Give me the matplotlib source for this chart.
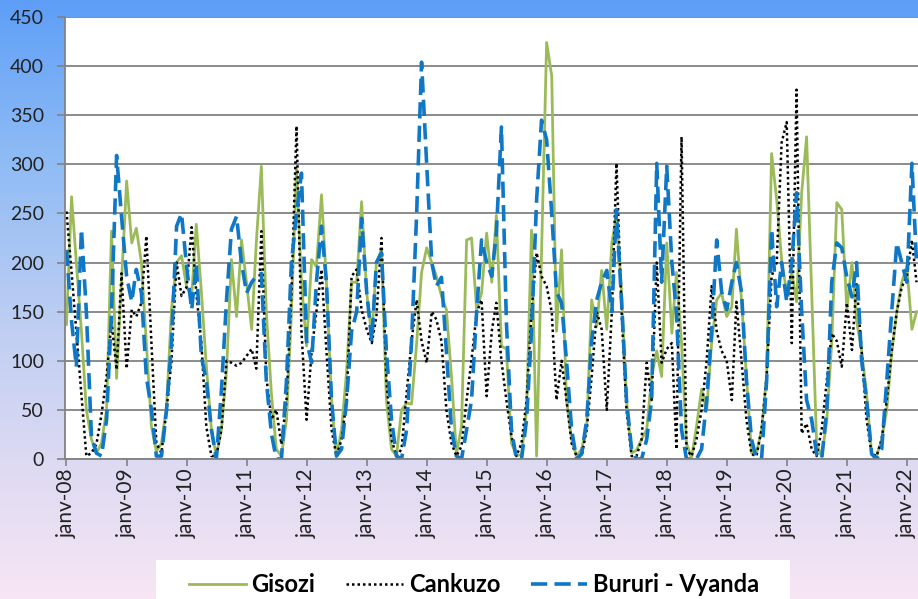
import numpy as np
import pandas as pd
import matplotlib
matplotlib.use('Agg')
import matplotlib.pyplot as plt
from matplotlib.patches import Rectangle

plt.rcParams['font.family'] = ['Lato', 'DejaVu Sans']

# monthly rainfall (mm), jan 2008 -> mar 2022
months = pd.date_range('2008-01-01', periods=171, freq='MS')

gisozi = [
    137, 267, 200, 130, 50, 20, 6, 16, 50, 232, 82, 180,      # 2008
    283, 220, 235, 200, 118, 33, 8, 16, 54, 152, 200, 207,    # 2009
    175, 166, 239, 170, 95, 30, 3, 30, 90, 203, 145, 223,     # 2010
    179, 132, 220, 298, 150, 67, 10, 3, 40, 150, 295, 180,    # 2011
    115, 203, 196, 269, 180, 60, 3, 30, 90, 180, 180, 262,    # 2012
    169, 125, 200, 213, 60, 10, 3, 50, 57, 56, 118, 190,      # 2013
    215, 200, 186, 166, 152, 84, 5, 33, 223, 225, 152, 169,   # 2014
    230, 180, 248, 115, 112, 16, 4, 4, 50, 233, 3, 212,       # 2015
    424, 390, 130, 213, 60, 20, 3, 10, 33, 162, 135, 192,     # 2016
    132, 220, 248, 170, 60, 6, 9, 20, 30, 84, 110, 84,        # 2017
    220, 128, 190, 118, 16, 1, 33, 71, 50, 118, 162, 169,     # 2018
    145, 155, 234, 162, 84, 6, 6, 30, 84, 311, 264, 203,      # 2019
    169, 190, 160, 271, 328, 170, 16, 2, 40, 118, 261, 254,   # 2020
    152, 200, 141, 110, 67, 5, 3, 20, 50, 108, 150, 180,      # 2021
    196, 132, 150,                                            # 2022
]

cankuzo = [
    252, 190, 130, 67, 3, 6, 15, 45, 84, 140, 91, 189,
    92, 152, 145, 159, 227, 118, 16, 6, 50, 100, 200, 166,
    175, 236, 169, 118, 33, 3, 3, 30, 100, 98, 95, 98,
    105, 112, 92, 232, 84, 40, 50, 15, 60, 169, 339, 130,
    40, 110, 150, 193, 110, 30, 3, 20, 60, 186, 193, 152,
    132, 118, 145, 225, 80, 20, 3, 10, 67, 120, 162, 120,
    98, 150, 142, 120, 50, 16, 3, 13, 60, 101, 149, 162,
    64, 130, 159, 100, 60, 23, 3, 16, 60, 150, 210, 186,
    176, 150, 60, 100, 60, 16, 3, 3, 30, 84, 150, 132,
    50, 150, 301, 150, 50, 3, 3, 20, 98, 60, 200, 98,
    112, 118, 10, 328, 10, 3, 20, 50, 100, 176, 130, 110,
    100, 60, 160, 100, 40, 5, 3, 30, 84, 186, 200, 322,
    343, 118, 376, 26, 36, 10, 3, 30, 80, 128, 120, 94,
    159, 111, 179, 110, 40, 5, 3, 20, 60, 110, 150, 175,
    186, 223, 180,
]

bururi = [
    213, 140, 94, 234, 150, 23, 6, 3, 40, 150, 309, 247,
    186, 160, 193, 169, 84, 50, 3, 3, 50, 118, 237, 250,
    196, 152, 199, 104, 80, 30, 0, 70, 162, 234, 247, 200,
    169, 180, 186, 189, 80, 26, 0, 0, 80, 200, 250, 291,
    120, 98, 180, 237, 180, 60, 3, 10, 60, 130, 150, 245,
    170, 120, 200, 210, 110, 40, 3, 0, 30, 120, 250, 404,
    300, 200, 176, 185, 110, 30, 3, 0, 30, 60, 150, 223,
    200, 186, 230, 338, 140, 30, 0, 0, 40, 130, 264, 345,
    325, 250, 170, 159, 100, 30, 0, 5, 40, 120, 162, 180,
    192, 150, 254, 160, 60, 10, 0, 0, 20, 60, 301, 180,
    298, 200, 150, 30, 0, 0, 0, 10, 60, 130, 223, 170,
    152, 180, 200, 170, 80, 20, 0, 0, 80, 234, 155, 200,
    160, 200, 271, 150, 60, 40, 5, 0, 50, 180, 220, 215,
    185, 165, 200, 100, 60, 5, 0, 10, 80, 150, 220, 200,
    180, 301, 200,
]

tick_years = list(range(2008, 2023))
tick_labels = ['janv-08', 'janv-09', 'janv-10', 'janv-11', 'janv-12',
               'janv-13', 'janv-14', 'janv-15', 'janv-16', 'janv-17',
               'janv-18', 'janv-19', 'janv-20', 'janv-21', 'janv-22']

W, H = 918, 599
fig = plt.figure(figsize=(W / 100, H / 100), dpi=100)

# background gradient, blue on top to pale pink at bottom
bg = fig.add_axes([0, 0, 1, 1], zorder=-10)
pos = [0.0, 0.25, 0.55, 0.8, 1.0]
cols = np.array([[0.37, 0.62, 0.97],
                 [0.55, 0.73, 0.96],
                 [0.75, 0.81, 0.95],
                 [0.88, 0.86, 0.95],
                 [0.97, 0.90, 0.96]])
t = np.linspace(0, 1, 300)
grad = np.stack([np.interp(t, pos, cols[:, i]) for i in range(3)], axis=-1)
grad = np.repeat(grad[:, None, :], 2, axis=1)
bg.imshow(grad, aspect='auto', extent=[0, 1, 0, 1])
bg.axis('off')

ax = fig.add_axes([65 / W, 1 - 459 / H, 1 - 65 / W, 442 / H])
ax.set_facecolor('white')

l1, = ax.plot(months, gisozi, color='#9bbb59', lw=2.0)
l2, = ax.plot(months, cankuzo, color='black', lw=1.8, linestyle=(0, (1, 1.2)))
l3, = ax.plot(months, bururi, color='#0f77c6', lw=2.6, linestyle=(0, (4.5, 2)))

ax.set_ylim(0, 450)
ax.set_yticks(range(0, 451, 50))
ax.set_xlim(pd.Timestamp('2007-12-23'), pd.Timestamp('2022-03-10'))
ax.set_xticks([pd.Timestamp(f'{y}-01-01') for y in tick_years])
ax.set_xticklabels(tick_labels, rotation=90)

ax.yaxis.grid(True, color='#828282', lw=1.3)
ax.set_axisbelow(True)
for s in ['top', 'right']:
    ax.spines[s].set_visible(False)
for s in ['left', 'bottom']:
    ax.spines[s].set_color('#828282')
    ax.spines[s].set_linewidth(1.3)

ax.tick_params(axis='y', length=6, width=1.2, color='#828282', pad=9,
               labelsize=14, labelcolor='#222222')
ax.tick_params(axis='x', length=5, width=1.2, color='#828282', pad=2,
               labelsize=15, labelcolor='#222222')

# white legend box running off the bottom edge
fig.patches.append(Rectangle((156 / W, 0), (790 - 156) / W, 1 - 560 / H,
                             transform=fig.transFigure, facecolor='white',
                             edgecolor='none', zorder=1))
leg = fig.legend([l1, l2, l3], ['Gisozi', 'Cankuzo', 'Bururi - Vyanda'],
                 loc='center left', bbox_to_anchor=(189 / W, 1 - 585 / H),
                 ncol=3, frameon=False, prop=dict(weight='bold', size=17),
                 handlelength=2.4, handletextpad=0.25, columnspacing=1.3,
                 borderpad=0, borderaxespad=0)
leg.set_zorder(2)

fig.savefig('out.png', dpi=100)
